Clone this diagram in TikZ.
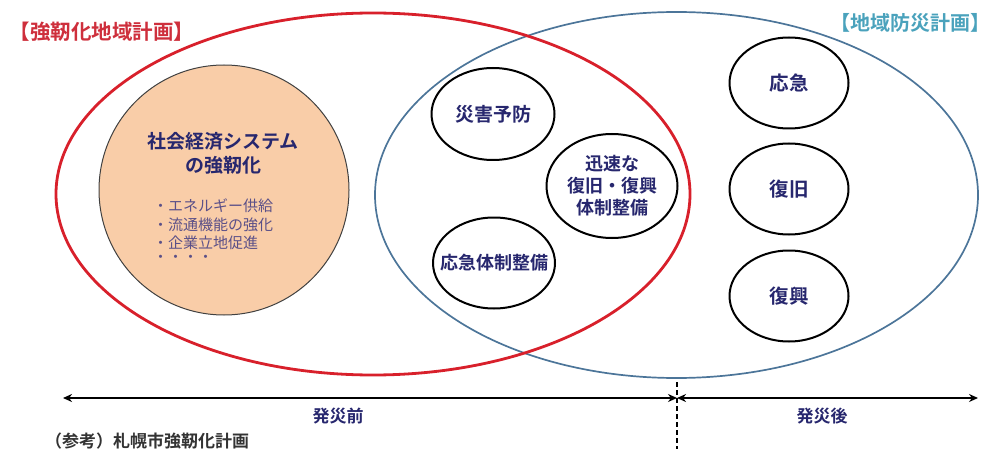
\documentclass[tikz,border=0pt]{standalone}
\usepackage{fontspec}
\setmainfont{Noto Sans CJK JP}
\newfontfamily\jpb{Noto Sans CJK JP Bold}
\usetikzlibrary{shapes.geometric,arrows.meta}
\definecolor{navy}{HTML}{27276E}
\definecolor{bulletc}{HTML}{5B5088}
\definecolor{redline}{HTML}{D8202B}
\definecolor{blueline}{HTML}{4C7599}
\definecolor{orangefill}{HTML}{F9CDA8}
\definecolor{redtitle}{HTML}{CE2F3C}
\definecolor{bluetitle}{HTML}{4AA2BC}
\tikzset{
  bigell/.style={ellipse, inner sep=0pt},
  smallell/.style={ellipse, draw=black, line width=2pt, fill=white, inner sep=0pt, align=center, text=navy, font=\jpb\fontsize{18}{22}\selectfont},
  bullet/.style={anchor=west, inner sep=0pt, text=bulletc, font=\fontsize{15}{17}\selectfont},
  tl/.style={inner sep=0pt, text=navy, font=\jpb\fontsize{17}{20}\selectfont},
  arr/.style={line width=1.6pt, {Stealth[length=9pt,width=8pt]}-{Stealth[length=9pt,width=8pt]}}
}
\begin{document}
\begin{tikzpicture}[x=1pt,y=-1pt]
\useasboundingbox (0,0) rectangle (992,449);
% large ellipses
\node[bigell, draw=blueline, line width=1.7pt, minimum width=603pt, minimum height=366pt] (bosai) at (676.5,195) {};
\node[bigell, draw=redline, line width=2.8pt, minimum width=634pt, minimum height=362pt] (kyoujin) at (373,194) {};
% titles
\node[inner sep=0pt, text=redtitle, font=\jpb\fontsize{20.5}{24}\selectfont] (t1) at (102,32) {【強靭化地域計画】};
\node[inner sep=0pt, text=bluetitle, font=\jpb\fontsize{20}{24}\selectfont] (t2) at (910,23) {【地域防災計画】};
% orange circle
\node[circle, draw=black!75, line width=1pt, fill=orangefill, minimum size=250pt, inner sep=0pt] (shakai) at (224,190) {};
\node[inner sep=0pt, text=navy, font=\jpb\fontsize{19}{24}\selectfont, align=center] (shakaiT) at (223,153) {社会経済システム\\の強靭化};
\node[bullet] (b1) at (153,206) {・エネルギー供給};
\node[bullet] (b2) at (153,225) {・流通機能の強化};
\node[bullet] (b3) at (153,243) {・企業立地促進};
\node[bullet] (b4) at (153,259) {・・・・};
% small ellipses
\node[smallell, minimum width=123pt, minimum height=92pt, font=\jpb\fontsize{19}{22}\selectfont] (yobou) at (493,114) {\makebox[0pt]{災害予防}};
\node[smallell, minimum width=131pt, minimum height=104pt] (jinsoku) at (612,186) {迅速な\\復旧・復興\\体制整備};
\node[smallell, minimum width=122pt, minimum height=91pt] (oukyuTai) at (494,263) {\makebox[0pt]{応急体制整備}};
\node[smallell, minimum width=119pt, minimum height=91pt, font=\jpb\fontsize{19.5}{22}\selectfont] (oukyu) at (789,83) {応急};
\node[smallell, minimum width=119pt, minimum height=91pt, font=\jpb\fontsize{19.5}{22}\selectfont] (fukkyu) at (789,189) {復旧};
\node[smallell, minimum width=119pt, minimum height=91pt, font=\jpb\fontsize{19.5}{22}\selectfont] (fukkou) at (789,296) {復興};
% timeline
\coordinate (L) at (63,398);
\coordinate (M) at (677,398);
\coordinate (R) at (978,398);
\coordinate (Dt) at (677,382);
\coordinate (Db) at (677,449);
\draw[arr] (L) -- (M);
\draw[arr] (M) -- (R);
\draw[line width=1.2pt, dash pattern=on 5pt off 3pt] (Dt) -- (Db);
\node[tl] (mae) at (338,416) {発災前};
\node[tl] (go) at (822,416) {発災後};
\node[anchor=west, inner sep=0pt, text=black!80, font=\jpb\fontsize{17}{18}\selectfont] (ref) at (45,441) {（参考）札幌市強靭化計画};
\end{tikzpicture}
\end{document}
